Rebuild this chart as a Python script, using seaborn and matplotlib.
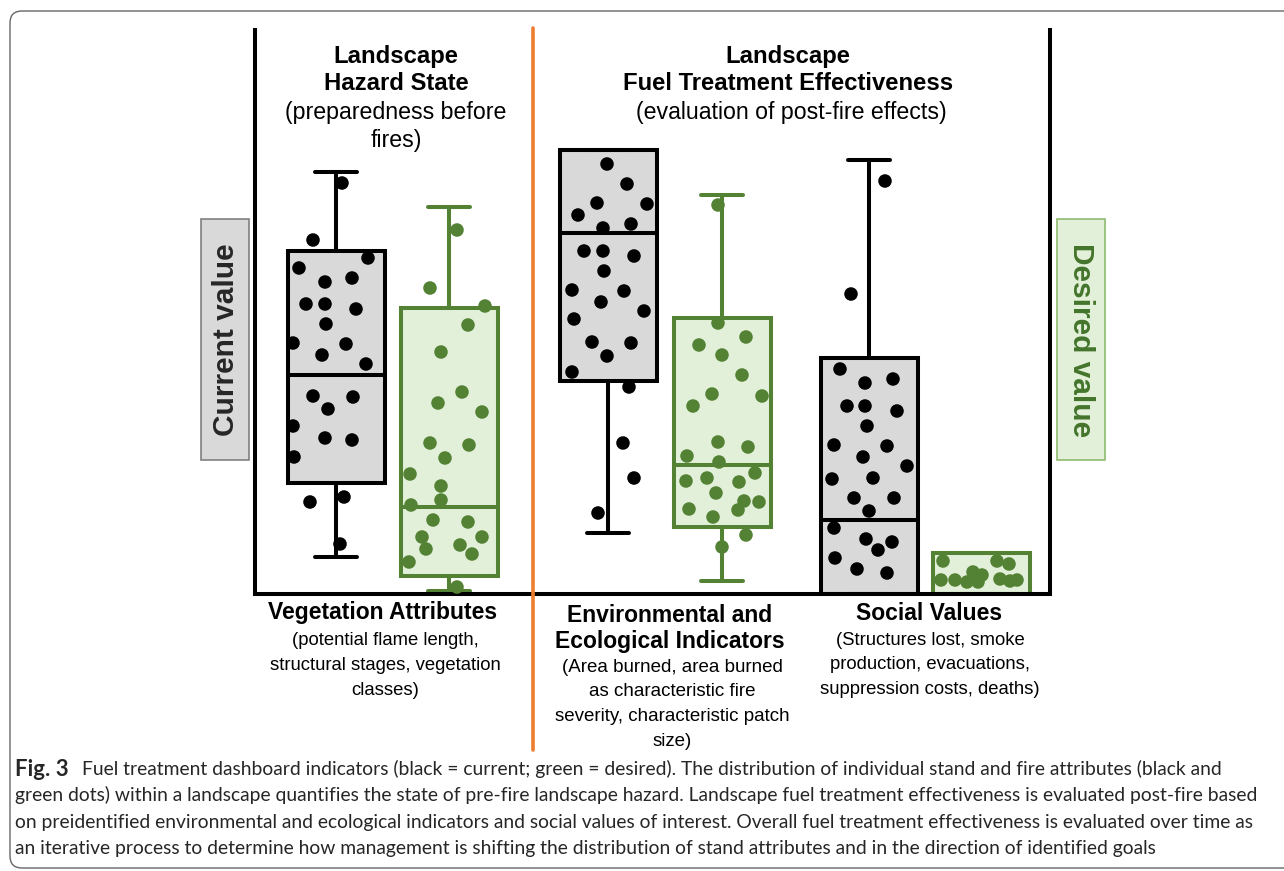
import numpy as np
import pandas as pd
import matplotlib.pyplot as plt
from matplotlib.patches import FancyBboxPatch, Rectangle
import seaborn as sns

# ---- data (y = height above the baseline, dx = jitter from box centre) ----
box_names = ["veg_current", "veg_desired", "env_current", "env_desired", "soc_current", "soc_desired"]
q1 = [111, 18, 213, 67, 0, 0]
med = [219, 87, 361, 129, 74, 0]
q3 = [343, 286, 444, 276, 236, 41]
whis_lo = [37, 3, 61, 13, 0, 0]
whis_hi = [422, 387, 444, 399, 434, 41]

veg_cur_dx = [6, -23, 32, -37, -11, 16, -30, -11, 20, -10, -43, 10, -14, 30, -23, 17, -8, -43, -11, 16, -42, -26, 8, 4]
veg_cur_y = [411, 354, 336, 326, 312, 316, 290, 290, 285, 270, 251, 250, 239, 230, 198, 197, 185, 168, 156, 154, 137, 92, 97, 50]

veg_des_dx = [8, -19, 36, 19, -8, 13, -11, 33, -19, 20, -4, -39, -8, -38, -8, -16, 19, -27, 33, -23, 11, 23, -40, 8]
veg_des_y = [364, 306, 288, 269, 242, 202, 191, 182, 151, 149, 136, 120, 108, 89, 94, 74, 72, 57, 57, 45, 49, 40, 32, 7]

env_cur_dx = [-1, 19, -11, 39, -30, -5, 23, -24, -5, 26, -4, -36, 16, -7, 36, -34, -16, 23, -1, -36, 21, 15, 26, -10]
env_cur_y = [430, 410, 391, 390, 379, 366, 370, 343, 343, 338, 323, 304, 303, 292, 283, 275, 252, 251, 238, 222, 207, 151, 116, 81]

env_des_dx = [-4, -4, 24, -23, 0, 20, -10, 40, -29, -4, 26, -35, -3, 33, -36, -15, 17, -6, 22, 37, -33, 16, -9, 24, 0]
env_des_y = [389, 271, 257, 249, 239, 219, 200, 198, 188, 152, 147, 138, 132, 121, 113, 116, 112, 101, 93, 92, 85, 84, 77, 59, 47]

soc_cur_dx = [16, -18, -29, -4, 24, -22, -4, 28, -2, -35, 18, -6, 38, -37, 4, -15, 25, 0, -35, -3, 23, 9, -34, -12, 18]
soc_cur_y = [413, 300, 225, 211, 215, 188, 188, 183, 168, 149, 148, 137, 128, 115, 116, 96, 96, 83, 66, 55, 52, 44, 36, 25, 21]

soc_des_dx = [-38, -40, -26, -8, 1, -3, 16, 28, 19, 29, 36, -14]
soc_des_y = [33, 14, 14, 22, 19, 12, 33, 30, 15, 13, 14, 12]

# ---- layout ----
W, H = 1284, 871
box_pos = [81, 194, 353, 467, 614, 726]
BLACK, GRAY_FILL = "black", "#d9d9d9"
GREEN, GREEN_FILL = "#548235", "#e2f0d9"
ORANGE = "#ed7d31"
LW = 2.9

sns.set_style("white")
plt.rcParams["font.family"] = ["Liberation Sans", "DejaVu Sans"]

fig = plt.figure(figsize=(W / 100, H / 100), dpi=100)


def fx(x):
    return x / W


def fy(y):
    return 1 - y / H


# outer rounded frame
frame = FancyBboxPatch((0.10, 0.03), 13.2, 8.57, boxstyle="round,pad=0,rounding_size=0.12",
                       transform=fig.dpi_scale_trans, fc="none", ec="#666666", lw=1.0)
fig.add_artist(frame)

ax = fig.add_axes([fx(255), fy(594), 795 / W, 564 / H])
ax.set_xlim(0, 795)
ax.set_ylim(0, 564)
ax.set_xticks([])
ax.set_yticks([])
ax.patch.set_alpha(0)
ax.spines["top"].set_visible(False)
for s in ["left", "right", "bottom"]:
    ax.spines[s].set_linewidth(LW)
    ax.spines[s].set_color("black")

# boxes
colors = [BLACK, GREEN] * 3
fills = [GRAY_FILL, GREEN_FILL] * 3
for i in range(6):
    st = [dict(med=med[i], q1=q1[i], q3=q3[i], whislo=whis_lo[i], whishi=whis_hi[i], fliers=[])]
    ax.bxp(st, positions=[box_pos[i]], widths=97, capwidths=42, patch_artist=True, manage_ticks=False,
           boxprops=dict(facecolor=fills[i], edgecolor=colors[i], linewidth=LW),
           medianprops=dict(color=colors[i], linewidth=LW),
           whiskerprops=dict(color=colors[i], linewidth=LW),
           capprops=dict(color=colors[i], linewidth=LW))

# dots
dots = []
for i, (dx, ys) in enumerate([(veg_cur_dx, veg_cur_y), (veg_des_dx, veg_des_y),
                               (env_cur_dx, env_cur_y), (env_des_dx, env_des_y),
                               (soc_cur_dx, soc_cur_y), (soc_des_dx, soc_des_y)]):
    for d, y in zip(dx, ys):
        dots.append({"box": box_names[i], "x": box_pos[i] + d, "y": y,
                     "state": "current" if i % 2 == 0 else "desired"})
df = pd.DataFrame(dots)
sns.scatterplot(data=df, x="x", y="y", hue="state", palette={"current": BLACK, "desired": GREEN},
                s=95, linewidth=0, legend=False, zorder=3, ax=ax)
ax.set_xlabel("")
ax.set_ylabel("")

# orange divider
ax.plot([278, 278], [566, -156], color=ORANGE, lw=2.6, clip_on=False, zorder=4)


def lines(x, y0, rows, step, size, weight="normal", color="black"):
    for k, r in enumerate(rows):
        fig.text(fx(x), fy(y0 + k * step), r, ha="center", va="center",
                 fontsize=size, fontweight=weight, color=color)


lines(396, 57, ["Landscape", "Hazard State"], 26, 17.2, "bold")
lines(396, 112, ["(preparedness before", "fires)"], 28, 16.7)
lines(788, 57, ["Landscape", "Fuel Treatment Effectiveness"], 26, 17.2, "bold")
lines(791, 112, ["(evaluation of post-fire effects)"], 28, 16.7)

lines(383, 613, ["Vegetation Attributes"], 26, 16.5, "bold")
lines(385, 640, ["(potential flame length,", "structural stages, vegetation", "classes)"], 25, 13.3)
lines(670, 615, ["Environmental and", "Ecological Indicators"], 26, 16.5, "bold")
lines(672, 667, ["(Area burned, area burned", "as characteristic fire",
                 "severity, characteristic patch", "size)"], 24.7, 13.5)
lines(929, 613, ["Social Values"], 26, 16.5, "bold")
lines(930, 640, ["(Structures lost, smoke", "production, evacuations,",
                 "suppression costs, deaths)"], 24.5, 13.3)

# side labels
fig.add_artist(Rectangle((fx(201), fy(460)), 48 / W, 241 / H, transform=fig.transFigure,
                         fc=GRAY_FILL, ec="#808080", lw=1.2))
fig.text(fx(225.5), fy(340), "Current value", rotation=90, ha="center", va="center",
         fontsize=21.5, fontweight="bold")
fig.add_artist(Rectangle((fx(1057), fy(460)), 48 / W, 241 / H, transform=fig.transFigure,
                         fc=GREEN_FILL, ec="#8fbc6f", lw=1.2))
fig.text(fx(1081), fy(340), "Desired value", rotation=270, ha="center", va="center",
         fontsize=21.5, fontweight="bold", color="#44752b")

# caption
cap_font = ["Lato", "DejaVu Sans"]
cap_size = 13.9
cap_rows = [
    "Fuel treatment dashboard indicators (black = current; green = desired). The distribution of individual stand and fire attributes (black and",
    "green dots) within a landscape quantifies the state of pre-fire landscape hazard. Landscape fuel treatment effectiveness is evaluated post-fire based",
    "on preidentified environmental and ecological indicators and social values of interest. Overall fuel treatment effectiveness is evaluated over time as",
    "an iterative process to determine how management is shifting the distribution of stand attributes and in the direction of identified goals",
]
cap_y = [769, 795, 822, 848]
fig_lbl = fig.text(fx(15), fy(cap_y[0]), "Fig. 3", ha="left", va="center", fontsize=16,
                   fontweight="bold", family=cap_font)
fig.canvas.draw()
bb = fig_lbl.get_window_extent()
fig.text(fx(bb.x1 + 13), fy(cap_y[0]), cap_rows[0], ha="left", va="center", fontsize=cap_size, family=cap_font)
for r, y in zip(cap_rows[1:], cap_y[1:]):
    fig.text(fx(15), fy(y), r, ha="left", va="center", fontsize=cap_size, family=cap_font)

fig.savefig("out.png", dpi=100)
